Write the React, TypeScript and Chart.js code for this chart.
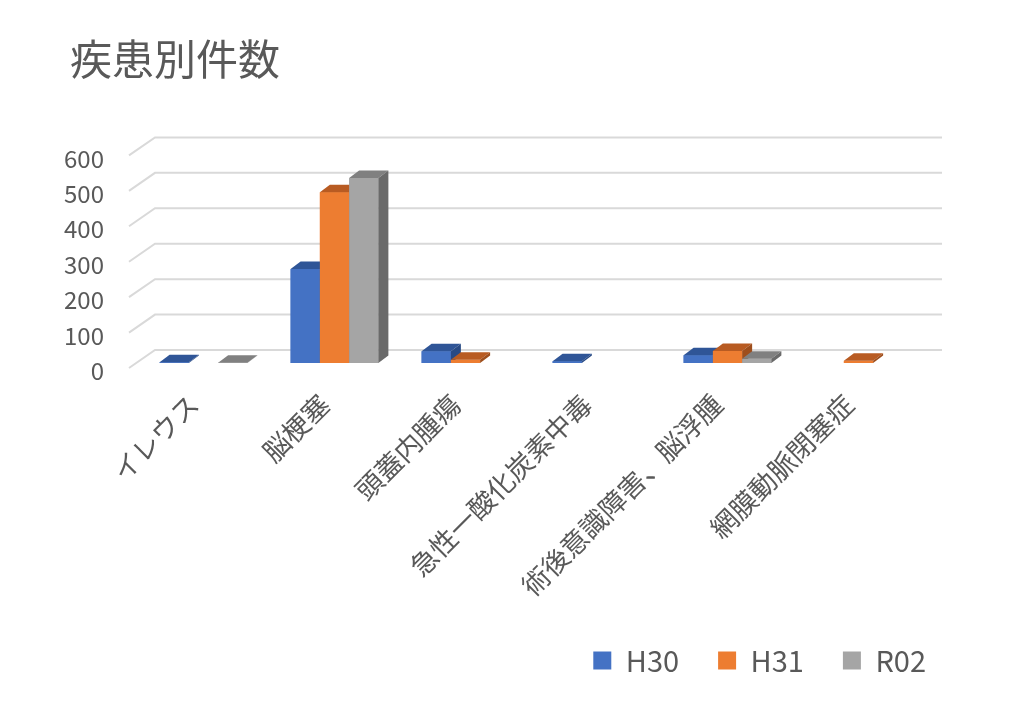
import React, { useEffect, useRef } from "react";
import { Chart, registerables } from "chart.js";

Chart.register(...registerables);

const categories = [
  "イレウス",
  "脳梗塞",
  "頭蓋内腫瘍",
  "急性一酸化炭素中毒",
  "術後意識障害、脳浮腫",
  "網膜動脈閉塞症",
];
const seriesNames = ["H30", "H31", "R02"];
const h30 = [2, 265, 33, 5, 22, 0];
const h31 = [0, 482, 9, 0, 34, 6];
const r02 = [1, 522, 0, 0, 12, 0];
const yTicks = [0, 100, 200, 300, 400, 500, 600];

const FONT = "'Noto Sans CJK JP', 'Noto Sans', sans-serif";
const TEXT = "#595959";
const fronts = ["#4472C4", "#ED7D31", "#A5A5A5"];
const tops = ["#2F5597", "#B85B22", "#808080"];
const sides = ["#284A85", "#9E4E1C", "#6A6A6A"];

// back-wall grid lines with the left "floor" diagonal
const wallGrid = {
  id: "wallGrid",
  beforeDatasetsDraw(chart: any) {
    const { ctx, chartArea } = chart;
    const yScale = chart.scales.y;
    ctx.save();
    ctx.strokeStyle = "#D9D9D9";
    ctx.lineWidth = 2;
    yTicks.forEach((v) => {
      const y = yScale.getPixelForValue(v);
      ctx.beginPath();
      ctx.moveTo(chartArea.left - 9, y + 5);
      ctx.lineTo(chartArea.left + 17, y - 13);
      ctx.lineTo(chartArea.right + 18, y - 13);
      ctx.stroke();
    });
    ctx.restore();
  },
};

// fake 3D: redraw every bar left to right with a top and side face
const bars3d = {
  id: "bars3d",
  afterDatasetsDraw(chart: any) {
    const ctx = chart.ctx;
    const dx = 10;
    const dy = -7.5;
    ctx.save();
    categories.forEach((_, i) => {
      chart.data.datasets.forEach((ds: any, j: number) => {
        const v = ds.data[i];
        if (!v) return;
        const el = chart.getDatasetMeta(j).data[i];
        const { x, y, base, width } = el.getProps(["x", "y", "base", "width"], true);
        const x1 = x - width / 2;
        const x2 = x + width / 2;
        ctx.fillStyle = fronts[j];
        ctx.fillRect(x1, y, width, base - y);
        ctx.fillStyle = tops[j];
        ctx.beginPath();
        ctx.moveTo(x1, y);
        ctx.lineTo(x2, y);
        ctx.lineTo(x2 + dx, y + dy);
        ctx.lineTo(x1 + dx, y + dy);
        ctx.closePath();
        ctx.fill();
        ctx.fillStyle = sides[j];
        ctx.beginPath();
        ctx.moveTo(x2, y);
        ctx.lineTo(x2 + dx, y + dy);
        ctx.lineTo(x2 + dx, base + dy);
        ctx.lineTo(x2, base);
        ctx.closePath();
        ctx.fill();
      });
    });
    ctx.restore();
  },
};

// nudge title and legend sideways (Excel places them off the plot edges)
const nudge = {
  id: "nudge",
  afterLayout(chart: any) {
    if (chart.titleBlock) {
      chart.titleBlock.left += 8;
      chart.titleBlock.right += 8;
    }
    if (chart.legend) {
      chart.legend.left += 41;
      chart.legend.right += 41;
    }
  },
};

const App: React.FC = () => {
  const chartRef = useRef<HTMLCanvasElement | null>(null);
  const chartInstance = useRef<Chart | null>(null);

  useEffect(() => {
    if (!chartRef.current) return;
    if (chartInstance.current) chartInstance.current.destroy();

    const values = [h30, h31, r02];
    chartInstance.current = new Chart(chartRef.current, {
      type: "bar",
      data: {
        labels: categories,
        datasets: seriesNames.map((name, j) => ({
          label: name,
          data: values[j],
          backgroundColor: fronts[j],
          borderWidth: 0,
          barPercentage: 1,
          categoryPercentage: 0.67,
        })),
      },
      options: {
        animation: false,
        responsive: true,
        maintainAspectRatio: false,
        layout: { padding: { top: 34, left: 62, right: 90, bottom: 30 } },
        plugins: {
          title: {
            display: true,
            text: "疾患別件数",
            align: "start",
            color: TEXT,
            font: { family: FONT, size: 42, weight: "normal" },
            padding: { top: 0, bottom: 66 },
          },
          legend: {
            position: "bottom",
            align: "end",
            labels: {
              color: TEXT,
              font: { family: FONT, size: 29 },
              boxWidth: 18,
              boxHeight: 18,
              padding: 39,
            },
          },
          tooltip: { enabled: false },
        },
        scales: {
          x: {
            grid: { display: false, drawTicks: false },
            border: { display: false },
            ticks: {
              color: TEXT,
              font: { family: FONT, size: 27 },
              minRotation: 45,
              maxRotation: 45,
              autoSkip: false,
              labelOffset: -10,
              padding: 25,
            },
            afterFit: (s: any) => {
              s.height = 244;
            },
          },
          y: {
            min: 0,
            max: 600,
            grid: { display: false, drawTicks: false },
            border: { display: false },
            ticks: {
              color: TEXT,
              font: { family: FONT, size: 24 },
              padding: 34,
              labelOffset: 8,
            },
            afterBuildTicks: (s: any) => {
              s.ticks = yTicks.map((v) => ({ value: v }));
            },
            afterFit: (s: any) => {
              s.width = 76;
            },
          },
        },
      },
      plugins: [wallGrid, bars3d, nudge],
    });

    return () => {
      if (chartInstance.current) {
        chartInstance.current.destroy();
        chartInstance.current = null;
      }
    };
  }, []);

  return (
    <div style={{ position: "fixed", left: 0, top: 0, width: 1014, height: 715, background: "#fff" }}>
      <canvas ref={chartRef} />
    </div>
  );
};

export default App;
